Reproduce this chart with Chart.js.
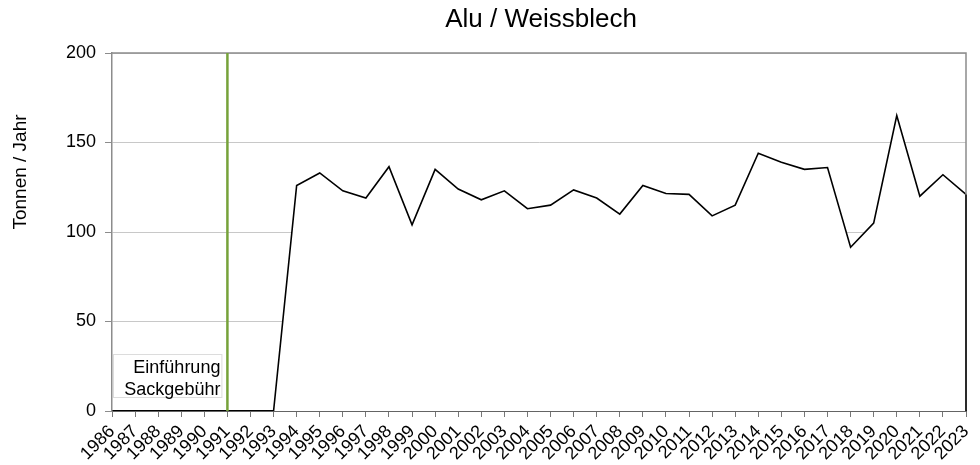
<!DOCTYPE html>
<html><head><meta charset="utf-8">
<script src="https://cdn.jsdelivr.net/npm/chart.js@4.4.1/dist/chart.umd.min.js"></script>
<style>html,body{margin:0;padding:0;background:#fff;}canvas{display:block;}</style>
</head><body>
<canvas id="c" width="980" height="465" style="width:980px;height:465px"></canvas>
<script>
const chartTitle = 'Alu / Weissblech';
const yTitle = 'Tonnen / Jahr';
const years = ['1986','1987','1988','1989','1990','1991','1992','1993','1994','1995','1996','1997','1998','1999','2000','2001','2002','2003','2004','2005','2006','2007','2008','2009','2010','2011','2012','2013','2014','2015','2016','2017','2018','2019','2020','2021','2022','2023'];
const tonnes = [null,null,null,null,null,null,null,0,126,133,123,119,136.5,104,135,124,118,123,113,115,123.5,119,110,126,121.5,121,109,115,144,139,135,136,91.5,105,165,120,132,121];
const yTicks = [0,50,100,150,200];
const markerYear = '1991';
const markerText = ['Einführung','Sackgebühr'];
const FONT = '"Liberation Sans", Arial, sans-serif';

const overlay = {
  id: 'overlay',
  afterDatasetsDraw(chart) {
    const ctx = chart.ctx, a = chart.chartArea, xs = chart.scales.x, ys = chart.scales.y;
    ctx.save();
    ctx.strokeStyle = '#8c8c8c'; ctx.lineWidth = 1.5;
    ctx.beginPath(); ctx.moveTo(a.left, a.top); ctx.lineTo(a.right, a.top); ctx.lineTo(a.right, a.bottom); ctx.stroke();
    const li = tonnes.length - 1;
    ctx.strokeStyle = '#000'; ctx.lineWidth = 1.5;
    ctx.beginPath(); ctx.moveTo(xs.getPixelForValue(li), ys.getPixelForValue(tonnes[li])); ctx.lineTo(xs.getPixelForValue(li), ys.getPixelForValue(0)); ctx.stroke();
    const mx = xs.getPixelForValue(years.indexOf(markerYear));
    ctx.strokeStyle = '#76a23a'; ctx.lineWidth = 2.5;
    ctx.beginPath(); ctx.moveTo(mx, a.top); ctx.lineTo(mx, a.bottom); ctx.stroke();
    ctx.fillStyle = '#fff'; ctx.strokeStyle = '#dcdcdc'; ctx.lineWidth = 1;
    ctx.fillRect(a.left + 1.5, 354, mx - a.left - 7, 44);
    ctx.strokeRect(a.left + 1.5, 354.5, mx - a.left - 7, 43);
    ctx.fillStyle = '#000'; ctx.font = '18px ' + FONT; ctx.textAlign = 'right'; ctx.textBaseline = 'alphabetic';
    ctx.fillText(markerText[0], mx - 7, 373);
    ctx.fillText(markerText[1], mx - 7, 395);
    ctx.font = '26px ' + FONT; ctx.textAlign = 'center'; ctx.textBaseline = 'middle';
    ctx.fillText(chartTitle, 541, 20);
    ctx.translate(21, 172); ctx.rotate(-Math.PI / 2);
    ctx.font = '19px ' + FONT;
    ctx.fillText(yTitle, 0, 0);
    ctx.restore();
  }
};

new Chart(document.getElementById('c'), {
  type: 'line',
  data: {
    labels: years,
    datasets: [{
      data: tonnes,
      borderColor: '#000',
      borderWidth: 1.6,
      backgroundColor: '#fff',
      fill: 'origin',
      pointRadius: 0,
      tension: 0,
      spanGaps: false
    }]
  },
  options: {
    responsive: false,
    devicePixelRatio: 1,
    animation: false,
    layout: { padding: { top: 53, right: 14, left: 0, bottom: 0 } },
    plugins: { legend: { display: false }, title: { display: false }, tooltip: { enabled: false } },
    scales: {
      x: {
        offset: false,
        grid: { display: true, drawOnChartArea: false, drawTicks: true, tickLength: 6, color: '#777' },
        border: { display: true, color: '#000', width: 1.5 },
        ticks: { autoSkip: false, minRotation: 45, maxRotation: 45, color: '#000', font: { family: FONT, size: 18 }, padding: 4 },
        afterFit(s) { s.height = 54; s.paddingLeft = 0; s.paddingRight = 0; }
      },
      y: {
        min: 0, max: 200,
        afterBuildTicks(s) { s.ticks = yTicks.map(v => ({ value: v })); },
        grid: { color: '#c8c8c8', lineWidth: 1, tickLength: 7, tickColor: '#8c8c8c' },
        border: { display: true, color: '#8c8c8c', width: 1.5 },
        ticks: { color: '#000', font: { family: FONT, size: 18 }, padding: 9 },
        afterFit(s) { s.width = 112; s.paddingTop = 0; s.paddingBottom = 0; }
      }
    }
  },
  plugins: [overlay]
});
</script>
</body></html>
